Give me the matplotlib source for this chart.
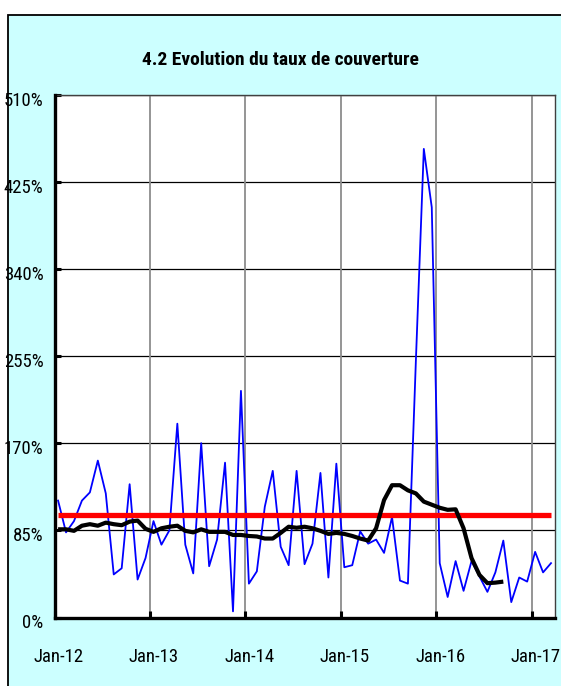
import matplotlib
matplotlib.use("Agg")
import matplotlib.pyplot as plt
import matplotlib.patches as mpatches
import matplotlib.transforms as mtrans

# ---------------- data ----------------
x_tick_labels = ["Jan-12", "Jan-13", "Jan-14", "Jan-15", "Jan-16", "Jan-17"]
x_tick_months = [0, 12, 24, 36, 48, 60]
y_ticks = [0, 85, 170, 255, 340, 425, 510]
y_tick_labels = ["0%", "85%", "170%", "255%", "340%", "425%", "510%"]

# monthly coverage rate (%), Jan-12 ... Mar-17
taux_mensuel = [114, 83, 94, 114, 122, 153, 121, 42, 48, 130, 37, 58,
                94, 71, 85, 189, 71, 43, 170, 50, 76, 151, 6, 221,
                33, 45, 108, 143, 69, 51, 143, 52, 72, 141, 39, 150,
                49, 51, 84, 72, 76, 63, 98, 36, 33, 250, 457, 400,
                53, 20, 55, 26, 55, 40, 25, 44, 75, 15, 39, 35,
                64, 44, 53]
# 12-month moving average (%), Jan-12 ... Sep-16
moyenne_mobile = [86, 86, 84.5, 89.5, 91, 89.5, 92.5, 91, 90, 93.5, 94.5, 86.5,
                  83.5, 87, 88.5, 89.5, 84.5, 83, 86, 83.5, 83.5, 83.5, 80.5, 80.5,
                  79.5, 79, 77, 77, 82.5, 88.5, 87.5, 88.5, 87, 84.5, 81.5, 82.5,
                  81.5, 79.5, 77, 75, 87, 114.5, 129, 129, 124, 121, 113, 110,
                  107, 105, 105.5, 87, 58, 41.5, 33.5, 34, 35]
seuil = 100  # reference level (%)

plt.rcParams["font.family"] = ["Roboto Condensed", "Liberation Sans", "DejaVu Sans"]

W, H = 561, 686
fig = plt.figure(figsize=(W / 100, H / 100), dpi=100)
fig.patch.set_facecolor("white")

panel = mpatches.Rectangle((7.5 / W, -0.02), 1.05, 1 - 14.5 / H + 0.02,
                           transform=fig.transFigure, facecolor="#CCFFFF",
                           edgecolor="black", linewidth=1.3, zorder=-5)
fig.patches.append(panel)

left, right, top, bottom = 54.5, 555, 94.5, 617.5
ax = fig.add_axes([left / W, 1 - bottom / H, (right - left) / W, (bottom - top) / H])
ax.set_facecolor("white")

off = 0.45
xs = [i + off for i in range(len(taux_mensuel))]
xm = [i + off for i in range(len(moyenne_mobile))]

ax.plot(xs, taux_mensuel, color="#0000FF", linewidth=1.3, zorder=3)
ax.plot([xs[0], xs[-1]], [seuil, seuil], color="#FF0000", linewidth=3.8, zorder=4,
        solid_capstyle="butt")
ax.plot(xm, moyenne_mobile, color="black", linewidth=3.0, zorder=5,
        solid_capstyle="butt", solid_joinstyle="round")

ax.set_xlim(0, 62.95)
ax.set_ylim(0, 510)

for yv in y_ticks[1:]:
    ax.axhline(yv, color="black", linewidth=0.9, zorder=1)
for xv in x_tick_months[1:]:
    ax.axvline(xv, color="#8C8C8C", linewidth=1.3, zorder=1)

ax.set_yticks(y_ticks)
ax.set_yticklabels(y_tick_labels)
ax.set_xticks(x_tick_months)
ax.set_xticklabels(x_tick_labels)

ax.tick_params(axis="x", direction="in", length=5, width=2.2, pad=22,
               labelsize=13.5, colors="black")
ax.tick_params(axis="y", direction="in", length=4, width=2.2, pad=8,
               labelsize=13.5, colors="black")

dx = mtrans.ScaledTranslation(4 / 100, 0, fig.dpi_scale_trans)
for lab in ax.get_xticklabels():
    lab.set_transform(lab.get_transform() + dx)
dy = mtrans.ScaledTranslation(0, -4 / 100, fig.dpi_scale_trans)
for lab in ax.get_yticklabels():
    lab.set_transform(lab.get_transform() + dy)

for s in ["left", "bottom"]:
    ax.spines[s].set_linewidth(2.4)
    ax.spines[s].set_color("black")
    ax.spines[s].set_zorder(6)
for s in ["top", "right"]:
    ax.spines[s].set_linewidth(1.0)
    ax.spines[s].set_color("#404040")

fig.text(280.5 / W, 1 - 60 / H, "4.2 Evolution du taux de couverture",
         ha="center", va="center", fontsize=14, fontweight="bold", color="black")

fig.savefig("out.png", dpi=100)
